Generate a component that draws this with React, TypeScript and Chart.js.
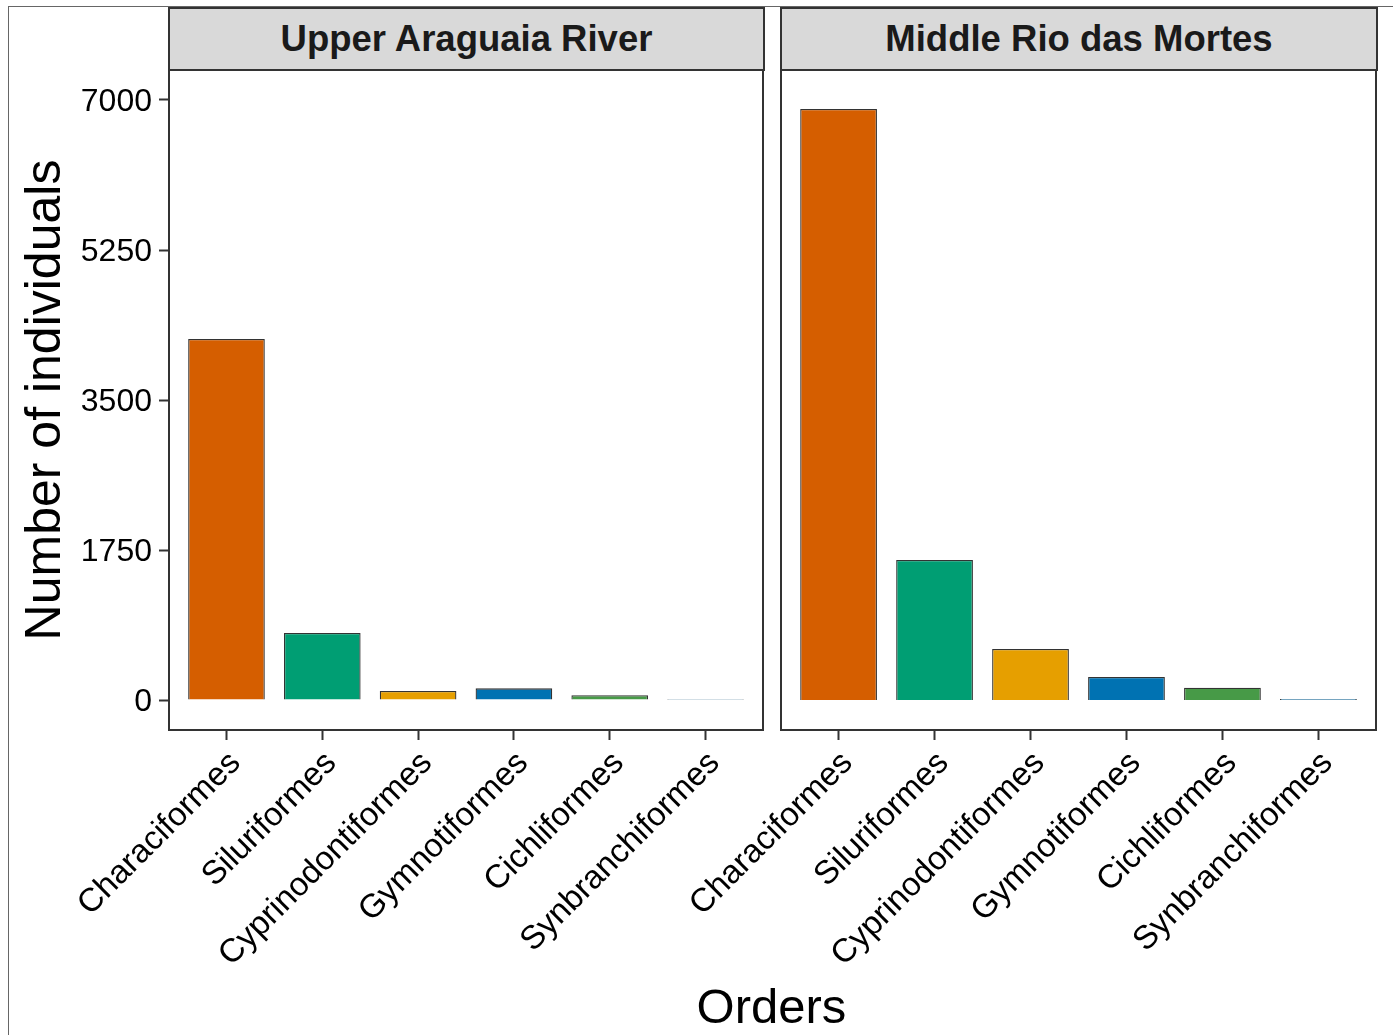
import React, { useEffect, useRef } from "react";
import { Chart, registerables } from "chart.js";

Chart.register(...registerables);

const orders = [
  "Characiformes",
  "Siluriformes",
  "Cyprinodontiformes",
  "Gymnotiformes",
  "Cichliformes",
  "Synbranchiformes",
];
const upperAraguaia = [4212, 782, 105, 136, 55, 12];
const middleMortes = [6895, 1633, 595, 268, 144, 12];
const orderColors = ["#D55E00", "#009E73", "#E69F00", "#0072B2", "#479A47", "#56B4E9"];
const yTicks = [0, 1750, 3500, 5250, 7000];
const panelTitles = ["Upper Araguaia River", "Middle Rio das Mortes"];

const FONT = '"Liberation Sans", Arial, Helvetica, sans-serif';
const DARK = "#333333";

// strokes a full box around the plotting area (ggplot theme_bw style)
const panelBorder = {
  id: "panelBorder",
  afterDraw(chart: any) {
    const { ctx, chartArea } = chart;
    ctx.save();
    ctx.strokeStyle = DARK;
    ctx.lineWidth = 2;
    ctx.strokeRect(
      chartArea.left,
      chartArea.top,
      chartArea.right - chartArea.left,
      chartArea.bottom - chartArea.top
    );
    ctx.restore();
  },
};

function makeConfig(values: number[], showY: boolean, pad: { left: number; right: number }) {
  return {
    type: "bar" as const,
    data: {
      datasets: [
        {
          data: values.map((v, i) => ({ x: i, y: v })),
          backgroundColor: orderColors,
          borderColor: DARK,
          borderWidth: 1.3,
          barPercentage: 0.8,
          categoryPercentage: 1,
        },
      ],
    },
    plugins: [panelBorder],
    options: {
      responsive: false,
      animation: false as const,
      layout: { padding: { top: 70, left: pad.left, right: pad.right, bottom: 0 } },
      plugins: { legend: { display: false }, tooltip: { enabled: false }, title: { display: false } },
      scales: {
        x: {
          type: "linear" as const,
          min: -0.6,
          max: 5.6,
          offset: false,
          afterBuildTicks: (scale: any) => {
            scale.ticks = orders.map((_, i) => ({ value: i }));
          },
          afterFit: (scale: any) => {
            scale.height = 305;
            // rotated labels must not shrink the plotting area
            scale.paddingLeft = 0;
            scale.paddingRight = 0;
          },
          ticks: {
            autoSkip: false,
            maxRotation: 45,
            minRotation: 45,
            padding: 4,
            labelOffset: 9,
            color: "#000",
            font: { family: FONT, size: 33 },
            callback: (v: any) => orders[v as number] ?? "",
          },
          grid: {
            offset: false,
            drawOnChartArea: false,
            drawTicks: true,
            tickLength: 10,
            tickWidth: 2,
            tickColor: DARK,
          },
          border: { display: false },
        },
        y: {
          display: showY,
          min: -350,
          max: 7350,
          afterBuildTicks: (scale: any) => {
            scale.ticks = yTicks.map((v) => ({ value: v }));
          },
          afterFit: (scale: any) => {
            if (showY) scale.width = 169;
          },
          ticks: {
            padding: 7,
            labelOffset: 2,
            color: "#000",
            font: { family: FONT, size: 32 },
            callback: (v: any) => String(v),
          },
          grid: {
            drawOnChartArea: false,
            drawTicks: true,
            tickLength: 10,
            tickWidth: 2,
            tickColor: DARK,
          },
          border: { display: false },
          title: {
            display: showY,
            text: "Number of individuals",
            color: "#000",
            font: { family: FONT, size: 50 },
            padding: { top: 16, bottom: 0 },
          },
        },
      },
    },
  };
}

function Panel(props: { values: number[]; showY: boolean; left: number; width: number; pad: { left: number; right: number } }) {
  const ref = useRef<HTMLCanvasElement | null>(null);
  useEffect(() => {
    if (!ref.current) return;
    const chart = new Chart(ref.current, makeConfig(props.values, props.showY, props.pad) as any);
    return () => chart.destroy();
  }, []);
  return (
    <canvas
      ref={ref}
      width={props.width}
      height={1035}
      style={{ position: "absolute", left: props.left, top: 0, width: props.width, height: 1035 }}
    />
  );
}

function Strip(props: { text: string; left: number; width: number }) {
  return (
    <div
      style={{
        position: "absolute",
        left: props.left,
        top: 7,
        width: props.width,
        height: 64,
        boxSizing: "border-box",
        background: "#D9D9D9",
        border: `2px solid ${DARK}`,
        display: "flex",
        alignItems: "center",
        justifyContent: "center",
        fontFamily: FONT,
        fontWeight: "bold",
        fontSize: 36.5,
        color: "#1a1a1a",
        zIndex: 2,
      }}
    >
      {props.text}
    </div>
  );
}

export default function App() {
  return (
    <div
      style={{
        position: "absolute",
        left: 0,
        top: 0,
        width: 1393,
        height: 1035,
        overflow: "hidden",
        background: "#fff",
      }}
    >
      <div
        style={{
          position: "absolute",
          left: 8,
          top: 6,
          right: 0,
          bottom: 0,
          borderLeft: "1px solid #666",
          borderTop: "1px solid #666",
        }}
      />
      <Panel values={upperAraguaia} showY={true} left={0} width={772} pad={{ left: 0, right: 9 }} />
      <Panel values={middleMortes} showY={false} left={600} width={793} pad={{ left: 181, right: 17 }} />
      <Strip text={panelTitles[0]} left={168} width={597} />
      <Strip text={panelTitles[1]} left={780} width={598} />
      <div
        style={{
          position: "absolute",
          left: 0,
          width: 1393 + 150,
          top: 978,
          textAlign: "center",
          fontFamily: FONT,
          fontSize: 49,
          color: "#000",
          lineHeight: "56px",
        }}
      >
        Orders
      </div>
    </div>
  );
}
